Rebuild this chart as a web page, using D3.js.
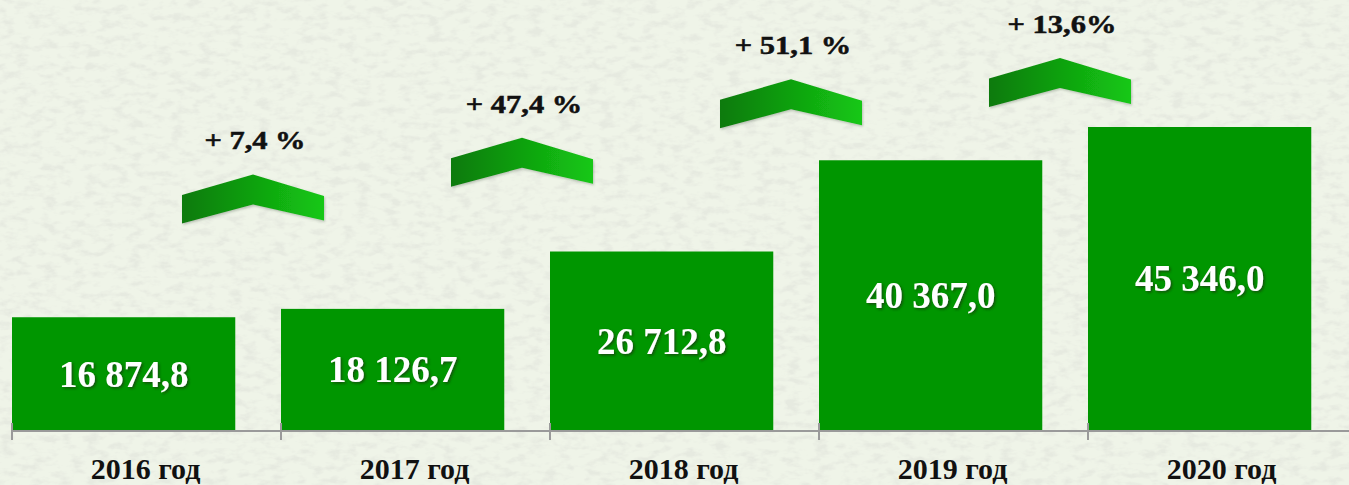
<!DOCTYPE html>
<html>
<head>
<meta charset="utf-8">
<script src="https://cdn.jsdelivr.net/npm/d3@7"></script>
<style>
  html, body { margin: 0; padding: 0; background: #eef3e6; }
  svg { display: block; }
</style>
</head>
<body>
<div id="chart"></div>
<script>
// données
const years = ["2016 год", "2017 год", "2018 год", "2019 год", "2020 год"];
const values = [16874.8, 18126.7, 26712.8, 40367.0, 45346.0];
const growthLabels = ["+ 7,4 %", "+ 47,4 %", "+ 51,1 %", "+ 13,6%"];

const width = 1349,
    height = 485,
    axisY = 430,
    step = 269,
    left = 11;

const svg = d3.select("#chart")
  .append("svg")
  .attr("width", width)
  .attr("height", height);

const defs = svg.append("defs");

// texture papier
const paper = defs.append("filter").attr("id", "paper")
  .attr("x", 0).attr("y", 0).attr("width", "100%").attr("height", "100%");
paper.append("feTurbulence")
  .attr("type", "fractalNoise")
  .attr("baseFrequency", "0.07 0.14")
  .attr("numOctaves", 3)
  .attr("seed", 7);
paper.append("feColorMatrix")
  .attr("type", "matrix")
  .attr("values", "0 0 0 0 0.74  0 0 0 0 0.76  0 0 0 0 0.70  0 0 0 3.6 -1.65");

const shadow = defs.append("filter").attr("id", "txtShadow")
  .attr("x", "-10%").attr("y", "-20%").attr("width", "130%").attr("height", "150%");
shadow.append("feDropShadow")
  .attr("dx", 1.5).attr("dy", 1.5).attr("stdDeviation", 0.8)
  .attr("flood-color", "#1a3a12").attr("flood-opacity", 0.75);

const chevShadow = defs.append("filter").attr("id", "chevShadow")
  .attr("x", "-10%").attr("y", "-20%").attr("width", "130%").attr("height", "160%");
chevShadow.append("feDropShadow")
  .attr("dx", 1).attr("dy", 1.5).attr("stdDeviation", 1)
  .attr("flood-color", "#556655").attr("flood-opacity", 0.35);

const grad = defs.append("linearGradient").attr("id", "chevGrad")
  .attr("x1", "0%").attr("x2", "100%").attr("y1", "0%").attr("y2", "0%");
grad.append("stop").attr("offset", "0%").attr("stop-color", "#0b7a0b");
grad.append("stop").attr("offset", "100%").attr("stop-color", "#14c814");

svg.append("rect").attr("width", width).attr("height", height).attr("fill", "#eff4e8");
svg.append("rect").attr("width", width).attr("height", height)
  .attr("filter", "url(#paper)").attr("opacity", 0.5);

// échelles
const x = d3.scaleBand()
  .domain(years)
  .range([left, left + step * years.length])
  .paddingInner(0);

const y = d3.scaleLinear()
  .domain([0, d3.max(values)])
  .range([axisY, 127]);

// échelle des flèches (plus compressée que les barres)
const yArrow = d3.scaleLinear()
  .domain([0, d3.max(values)])
  .range([252, 58]);

const barW = x.bandwidth() * 0.83;
const fmt = d3.formatLocale({ decimal: ",", thousands: " ", grouping: [3] }).format(",.1f");

// barres
svg.append("g")
  .selectAll("rect")
  .data(values)
  .join("rect")
  .attr("x", (d, i) => x(years[i]) + 1)
  .attr("y", d => y(d))
  .attr("width", barW)
  .attr("height", d => axisY - y(d))
  .attr("fill", "#009600");

// axe
const axis = svg.append("g").attr("stroke", "#9a9a9a").attr("stroke-width", 2);
axis.append("line")
  .attr("x1", x.range()[0]).attr("x2", x.range()[1])
  .attr("y1", axisY + 1).attr("y2", axisY + 1);
axis.selectAll("line.tick")
  .data(years)
  .join("line")
  .attr("class", "tick")
  .attr("x1", d => x(d) + 1).attr("x2", d => x(d) + 1)
  .attr("y1", axisY - 7).attr("y2", axisY + 10);

// étiquettes des années
svg.append("g")
  .selectAll("text")
  .data(years)
  .join("text")
  .attr("x", d => x(d) + x.bandwidth() / 2)
  .attr("y", 479)
  .attr("text-anchor", "middle")
  .style("font-family", "'Times New Roman', 'Liberation Serif', serif")
  .style("font-weight", "bold")
  .style("font-size", "30px")
  .attr("fill", "#111")
  .text(d => d);

// valeurs dans les barres
svg.append("g")
  .selectAll("text")
  .data(values)
  .join("text")
  .attr("x", (d, i) => x(years[i]) + 1 + barW / 2)
  .attr("y", d => (y(d) + axisY) / 2)
  .attr("dy", "0.35em")
  .attr("text-anchor", "middle")
  .style("font-family", "'Times New Roman', 'Liberation Serif', serif")
  .style("font-weight", "bold")
  .style("font-size", "37px")
  .attr("fill", "#fff")
  .attr("filter", "url(#txtShadow)")
  .text(d => fmt(d));

// flèches de croissance
const growth = growthLabels.map((label, i) => ({
  label,
  cx: x(years[i + 1]) - 27,
  cy: yArrow(values[i + 1])
}));

const chev = svg.append("g")
  .selectAll("g")
  .data(growth)
  .join("g")
  .attr("transform", d => `translate(${d.cx},${d.cy})`);

chev.append("path")
  .attr("d", "M-71,20.5 L0,0 L71,21.5 L71,46 L0,30 L-71,49 Z")
  .attr("fill", "url(#chevGrad)")
  .attr("filter", "url(#chevShadow)");

chev.append("text")
  .attr("transform", "translate(2,-25) scale(1.22,1)")
  .attr("text-anchor", "middle")
  .style("font-family", "'Times New Roman', 'Liberation Serif', serif")
  .style("font-weight", "bold")
  .style("font-size", "25px")
  .attr("fill", "#111")
  .attr("stroke", "#111")
  .attr("stroke-width", 0.5)
  .text(d => d.label);
</script>
</body>
</html>
